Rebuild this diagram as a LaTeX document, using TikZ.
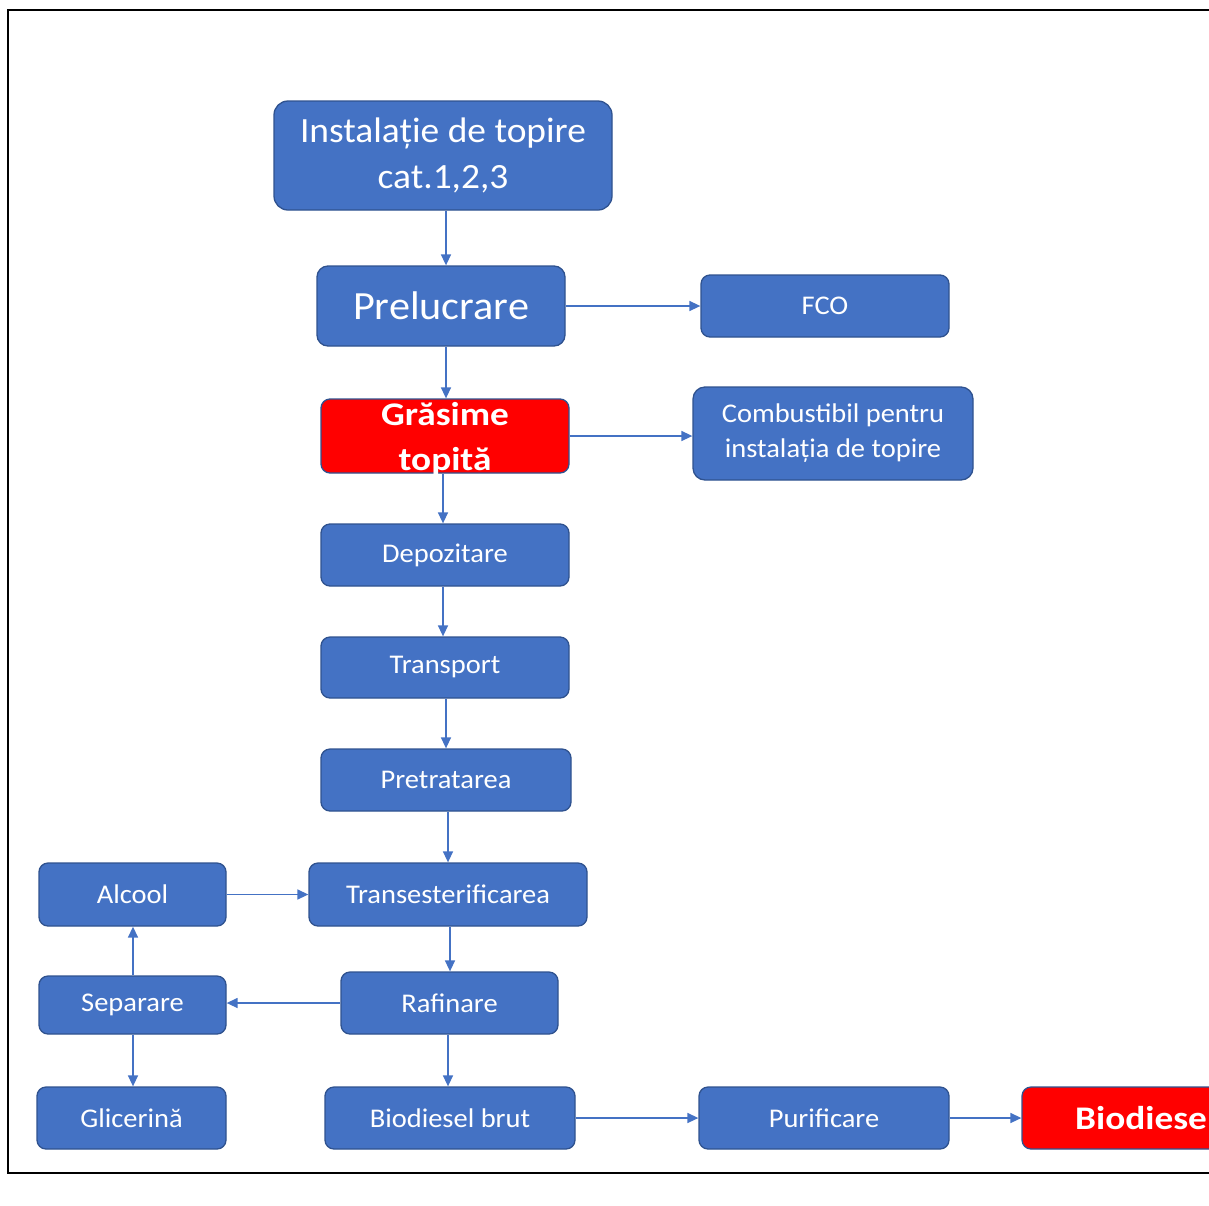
\documentclass[tikz,border=0pt]{standalone}
\usepackage{fontspec}
\setmainfont{Carlito}[FakeStretch=1.055]
\newfontfamily\widebold{Carlito}[FakeStretch=1.13]
\usetikzlibrary{arrows.meta}
\definecolor{boxblue}{HTML}{4472C4}
\definecolor{boxedge}{HTML}{2F528F}
\definecolor{hotred}{HTML}{FF0000}
\tikzset{
  box/.style={draw=boxedge, line width=1.3pt, fill=boxblue, rounded corners=9pt,
    text=white, align=center, inner sep=0pt, font=\fontsize{27}{35}\selectfont},
  redbox/.style={box, fill=hotred},
  boldlabel/.style={text=white, align=center, inner sep=0pt,
    font=\widebold\fontsize{33}{45}\selectfont\bfseries},
  arr/.style={draw=boxblue, line width=1.5pt, -{Triangle[length=11pt,width=10pt]}},
  frame/.style={draw=black, line width=2.6pt}
}
\begin{document}
\begin{tikzpicture}[x=1pt,y=-1pt]
\useasboundingbox (0,0) rectangle (1209,1205);
% outer frame, open on the right
\draw[frame] (1260,10) -- (8,10) -- (8,1173) -- (1260,1173);

% main column
\node[box, rounded corners=14pt, minimum width=338pt, minimum height=109pt,
      font=\fontsize{35.5}{46}\selectfont] (inst) at (443,155.5) {Instalație de topire\\cat.1,2,3};
\node[box, rounded corners=11pt, minimum width=248pt, minimum height=80pt,
      font=\fontsize{40}{46}\selectfont] (prel) at (441,306) {Prelucrare};
\node[redbox, minimum width=248pt, minimum height=74pt] (gras) at (445,436) {};
\node[boldlabel] (grastxt) at (445,439) {Grăsime\\topită};
\node[box, minimum width=248pt, minimum height=62pt] (dep) at (445,555) {Depozitare};
\node[box, minimum width=248pt, minimum height=61pt] (transp) at (445,667.5) {Transport};
\node[box, minimum width=250pt, minimum height=62pt] (pret) at (446,780) {Pretratarea};
\node[box, minimum width=278pt, minimum height=63pt] (trest) at (448,894.5) {Transesterificarea};
\node[box, minimum width=217pt, minimum height=62pt] (raf) at (449.5,1003) {Rafinare};
\node[box, minimum width=250pt, minimum height=62pt] (bbrut) at (450,1118) {Biodiesel brut};

% side branches
\node[box, minimum width=248pt, minimum height=62pt] (fco) at (825,306) {FCO};
\node[box, rounded corners=12pt, minimum width=280pt, minimum height=93pt] (comb) at (833,433.5) {Combustibil pentru\\instalația de topire};
\node[box, minimum width=187pt, minimum height=63pt] (alc) at (132.5,894.5) {Alcool};
\node[box, minimum width=187pt, minimum height=58pt] (sep) at (132.5,1005) {Separare};
\node[box, minimum width=189pt, minimum height=62pt] (glic) at (131.5,1118) {Glicerină};
\node[box, minimum width=250pt, minimum height=62pt] (pur) at (824,1118) {Purificare};
\node[redbox, minimum width=250pt, minimum height=62pt] (bio) at (1147,1118) {};
\node[boldlabel, anchor=west] (biotxt) at (1075,1118) {Biodiesel};

% connectors
\draw[arr] (inst.south -| 446,0) -- (prel.north -| 446,0);
\draw[arr] (prel.east) -- (prel.east -| fco.west);
\draw[arr] (prel.south -| 446,0) -- (gras.north -| 446,0);
\draw[arr] (gras.east) -- (gras.east -| comb.west);
\draw[arr] (gras.south -| 443,0) -- (dep.north -| 443,0);
\draw[arr] (dep.south -| 443,0) -- (transp.north -| 443,0);
\draw[arr] (transp.south -| 446,0) -- (pret.north -| 446,0);
\draw[arr] (pret.south -| 448,0) -- (trest.north -| 448,0);
\draw[arr] (alc.east) -- (alc.east -| trest.west);
\draw[arr] (trest.south -| 450,0) -- (raf.north -| 450,0);
\draw[arr] (raf.west) -- (raf.west -| sep.east);
\draw[arr] (sep.north -| 133,0) -- (alc.south -| 133,0);
\draw[arr] (sep.south -| 133,0) -- (glic.north -| 133,0);
\draw[arr] (raf.south -| 448,0) -- (bbrut.north -| 448,0);
\draw[arr] (bbrut.east) -- (bbrut.east -| pur.west);
\draw[arr] (pur.east) -- (pur.east -| bio.west);
\end{tikzpicture}
\end{document}
